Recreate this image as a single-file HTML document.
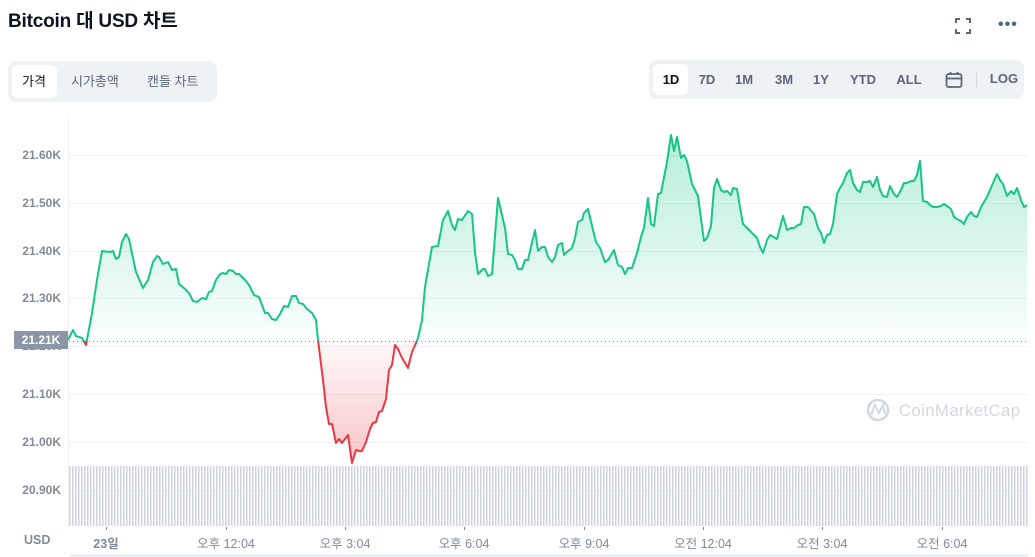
<!DOCTYPE html>
<html><head><meta charset="utf-8"><style>
body{margin:0;width:1035px;height:557px;background:#fff;overflow:hidden;font-family:"Liberation Sans","Noto Sans CJK KR",sans-serif;position:relative;color:#0d1421}
.a{position:absolute}
.title{left:8px;top:6px;font-size:19px;font-weight:bold;letter-spacing:-0.2px}
.tabs{left:8px;top:61px;width:209px;height:41px;background:#eff2f5;border-radius:8px}
.tab{position:absolute;top:0;height:41px;line-height:41px;font-size:13px;color:#58667e}
.btns{left:649px;top:60px;width:375px;height:39px;background:#eff2f5;border-radius:8px}
.b{position:absolute;top:0;line-height:39px;font-size:13px;font-weight:bold;color:#58667e;transform:translateX(-50%)}
.yl{position:absolute;right:974px;font-size:12px;color:#808a9d;font-weight:bold}
.xl{position:absolute;top:533px;font-size:12.5px;color:#808a9d;transform:translateX(-50%);white-space:nowrap}
</style></head><body>
<div class="a title">Bitcoin 대 USD 차트</div>
<div class="a" style="left:955px;top:18px;width:16px;height:16px;">
<svg width="16" height="16"><path d="M1 5V1H5M11 1H15V5M15 11V15H11M5 15H1V11" fill="none" stroke="#58667e" stroke-width="2"/></svg></div>
<div class="a" style="left:998px;top:16px;font-size:16px;color:#58667e;font-weight:bold;letter-spacing:1px">•••</div>
<div class="a tabs">
<div style="position:absolute;left:4px;top:4px;width:45px;height:33px;background:#fff;border-radius:6px"></div>
<div class="tab" style="left:14px;color:#0d1421">가격</div>
<div class="tab" style="left:63px">시가총액</div>
<div class="tab" style="left:139px">캔들 차트</div>
</div>
<div class="a btns">
<div style="position:absolute;left:4px;top:4px;width:35px;height:31px;background:#fff;border-radius:6px"></div>
<div class="b" style="left:22px;color:#0d1421">1D</div>
<div class="b" style="left:58px">7D</div>
<div class="b" style="left:95px">1M</div>
<div class="b" style="left:135px">3M</div>
<div class="b" style="left:172px">1Y</div>
<div class="b" style="left:214px">YTD</div>
<div class="b" style="left:260px">ALL</div>
<svg style="position:absolute;left:296px;top:11px" width="18" height="18"><rect x="1.5" y="3" width="15" height="13" rx="2" fill="none" stroke="#58667e" stroke-width="1.8"/><line x1="1.5" y1="7.5" x2="16.5" y2="7.5" stroke="#58667e" stroke-width="1.8"/><line x1="5.5" y1="1" x2="5.5" y2="4" stroke="#58667e" stroke-width="1.8"/><line x1="12.5" y1="1" x2="12.5" y2="4" stroke="#58667e" stroke-width="1.8"/></svg>
<div style="position:absolute;left:327px;top:12px;width:1px;height:15px;background:#cfd6e4"></div>
<div class="b" style="left:355px;line-height:37px">LOG</div>
</div>

<svg class="a" style="left:0;top:0" width="1035" height="557">
<defs>
<linearGradient id="gg" x1="0" y1="130" x2="0" y2="341" gradientUnits="userSpaceOnUse"><stop offset="0" stop-color="#16c784" stop-opacity="0.32"/><stop offset="1" stop-color="#16c784" stop-opacity="0.02"/></linearGradient>
<linearGradient id="rg" x1="0" y1="341" x2="0" y2="465" gradientUnits="userSpaceOnUse"><stop offset="0" stop-color="#ea3943" stop-opacity="0.03"/><stop offset="1" stop-color="#ea3943" stop-opacity="0.3"/></linearGradient>
<clipPath id="top"><rect x="0" y="0" width="1035" height="341"/></clipPath>
<clipPath id="bot"><rect x="0" y="341" width="1035" height="200"/></clipPath>
<pattern id="vb" width="3" height="10" patternUnits="userSpaceOnUse"><rect x="0" y="0" width="1.5" height="10" fill="#cdd2dd"/></pattern>
</defs>
<line x1="68.5" y1="115" x2="68.5" y2="527" stroke="#eff2f5"/>
<g stroke="#eff2f5" stroke-width="1">
<line x1="69" y1="155.5" x2="1028" y2="155.5"/><line x1="69" y1="203.5" x2="1028" y2="203.5"/>
<line x1="69" y1="251.5" x2="1028" y2="251.5"/><line x1="69" y1="298.5" x2="1028" y2="298.5"/>
<line x1="69" y1="346.5" x2="1028" y2="346.5"/><line x1="69" y1="394.5" x2="1028" y2="394.5"/>
<line x1="69" y1="442.5" x2="1028" y2="442.5"/><line x1="69" y1="490.5" x2="1028" y2="490.5"/>
</g>
<rect x="69" y="466" width="959" height="60" fill="url(#vb)"/>
<line x1="70" y1="555.5" x2="1028" y2="555.5" stroke="#e3e9f5" stroke-width="2"/>
<g stroke="#808a9d"><line x1="106.5" y1="527" x2="106.5" y2="530"/><line x1="226.5" y1="527" x2="226.5" y2="530"/><line x1="345.5" y1="527" x2="345.5" y2="530"/><line x1="464.5" y1="527" x2="464.5" y2="530"/><line x1="584.5" y1="527" x2="584.5" y2="530"/><line x1="703.5" y1="527" x2="703.5" y2="530"/><line x1="822.5" y1="527" x2="822.5" y2="530"/><line x1="942.5" y1="527" x2="942.5" y2="530"/></g>
<g id="wm" opacity="0.5">
<circle cx="878" cy="410" r="10" fill="none" stroke="#a6b0c3" stroke-width="2.5"/>
<path d="M871 415 L875 405 L879 413 L883 405 L885 414" fill="none" stroke="#a6b0c3" stroke-width="2"/>
<text x="899" y="416" font-size="16.5" font-family="Liberation Sans,sans-serif" fill="#a6b0c3" textLength="121">CoinMarketCap</text>
</g>
<polygon id="fill" clip-path="url(#top)" fill="url(#gg)" points=""/>
<polygon id="fill2" clip-path="url(#bot)" fill="url(#rg)" points=""/>
<line x1="69" y1="341.5" x2="1028" y2="341.5" stroke="#58667e" stroke-dasharray="1,3" opacity="0.8"/>
<polyline id="lg" clip-path="url(#top)" fill="none" stroke="#16c784" stroke-width="2" stroke-linejoin="round" points=""/>
<polyline id="lr" clip-path="url(#bot)" fill="none" stroke="#ea3943" stroke-width="2" stroke-linejoin="round" points=""/>
</svg>
<div class="yl" style="top:148px">21.60K</div>
<div class="yl" style="top:196px">21.50K</div>
<div class="yl" style="top:244px">21.40K</div>
<div class="yl" style="top:291px">21.30K</div>
<div class="yl" style="top:339px">21.20K</div>
<div class="yl" style="top:387px">21.10K</div>
<div class="yl" style="top:435px">21.00K</div>
<div class="yl" style="top:483px">20.90K</div>
<div class="a" style="left:14px;top:331px;width:54px;height:18px;background:#8d96a5;color:#fff;font-size:12px;font-weight:bold;line-height:18px;text-align:center">21.21K</div>
<div class="a" style="left:24px;top:533px;font-size:12.5px;font-weight:bold;color:#808a9d">USD</div>
<div class="xl" style="left:106px;font-weight:bold">23일</div>
<div class="xl" style="left:226px">오후 12:04</div>
<div class="xl" style="left:345px">오후 3:04</div>
<div class="xl" style="left:464px">오후 6:04</div>
<div class="xl" style="left:584px">오후 9:04</div>
<div class="xl" style="left:703px">오전 12:04</div>
<div class="xl" style="left:822px">오전 3:04</div>
<div class="xl" style="left:942px">오전 6:04</div>
<script>
var p="68,340 73,330 76,336 82,338 86,345 92,313 97,280 102,251 110,252 113,251 116,259 119,257 122,242 126,234 129,239 136,272 143,288 148,280 153,262 157,256 159,257 163,264 168,262 172,270 176,269 179,284 185,289 189,293 193,301 197,302 202,298 206,299 209,292 212,291 216,280 220,274 223,273 226,274 229,270 233,271 236,274 239,274 245,280 249,285 254,295 259,297 265,313 268,313 272,319 276,320 280,314 284,306 288,307 292,296 296,296 299,303 303,304 307,309 312,313 316,320 318,340 323,380 326,407 329,424 332,424 336,443 339,439 342,443 348,435 352,463 356,450 359,451 362,451 366,442 370,429 373,423 376,422 379,412 382,411 386,399 389,370 392,365 395,345 398,349 402,358 408,368 412,352 416,343 418,338 422,320 425,287 432,247 438,246 443,220 448,211 452,225 455,230 458,219 462,220 468,211 472,214 475,252 478,274 483,269 485,269 488,276 492,274 498,198 505,228 508,254 512,255 515,260 518,269 522,269 525,260 528,260 535,230 538,251 542,247 545,247 548,257 552,262 555,257 558,245 562,243 564,255 568,251 572,248 575,238 578,222 582,220 584,213 588,209 593,230 596,242 600,248 605,262 608,260 614,250 618,265 622,267 625,274 628,268 632,268 637,253 641,237 644,228 648,198 651,224 654,226 658,194 661,193 667,162 671,135 674,151 677,137 681,158 684,155 687,161 692,184 698,196 704,241 707,238 711,226 714,188 717,179 721,190 724,192 727,191 731,195 733,188 737,189 740,207 743,224 748,229 753,234 757,238 760,247 763,253 767,240 770,235 777,239 783,216 787,230 791,228 794,228 798,225 801,224 804,207 808,207 814,214 818,228 821,233 824,243 827,235 830,234 833,224 837,194 840,188 843,183 847,173 850,170 853,183 857,190 860,192 863,182 867,182 870,181 873,187 877,177 880,190 883,196 887,197 890,186 894,194 897,197 901,190 904,183 907,183 911,181 914,181 917,175 920,161 923,201 927,202 930,205 933,207 937,207 941,206 944,204 947,206 951,209 954,217 957,219 961,221 964,224 967,217 971,212 974,216 977,217 981,207 987,197 990,190 997,174 1000,180 1003,184 1007,196 1011,191 1014,194 1017,188 1021,200 1024,207 1027,205";
document.getElementById('lg').setAttribute('points',p);
document.getElementById('lr').setAttribute('points',p);
var f=p+" 1027,341 68,341";
document.getElementById('fill').setAttribute('points',f);
document.getElementById('fill2').setAttribute('points',f);
</script>
</body></html>
